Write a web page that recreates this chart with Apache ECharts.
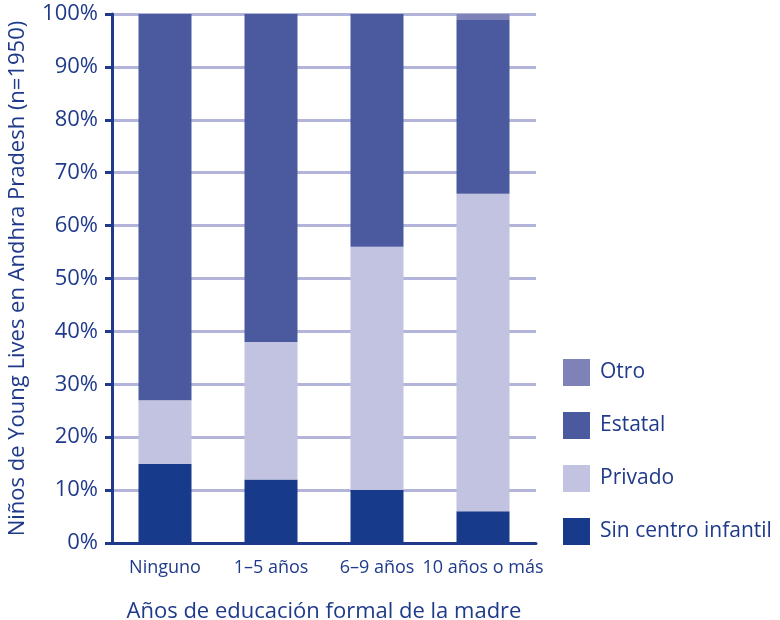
<!DOCTYPE html>
<html>
<head>
<meta charset="utf-8">
<script src="https://cdn.jsdelivr.net/npm/echarts@6/dist/echarts.min.js"></script>
<style>
  html, body { margin: 0; padding: 0; background: #fff; }
  #chart { width: 780px; height: 620px; }
</style>
</head>
<body>
<div id="chart"></div>
<script>
var categories = ['Ninguno', '1–5 años', '6–9 años', '10 años o más'];
var sinCentro = [15, 12, 10, 6];
var privado = [12, 26, 46, 60];
var estatal = [73, 62, 44, 33];
var otro = [0, 0, 0, 1];

var textColor = '#1f3a8a';
var fontFam = '"Open Sans", "Noto Sans", sans-serif';

var chart = echarts.init(document.getElementById('chart'));

function barSeries(name, data, color) {
    return {
        name: name,
        type: 'bar',
        stack: 'total',
        barWidth: '50%',
        data: data,
        itemStyle: { color: color },
        emphasis: { disabled: true }
    };
}

chart.setOption({
    animation: false,
    textStyle: { fontFamily: fontFam, color: textColor },
    grid: { left: 112, right: 244, top: 14, bottom: 77, containLabel: false, outerBoundsMode: 'none' },
    legend: {
        orient: 'vertical',
        left: 563,
        top: 359,
        padding: 0,
        itemWidth: 27,
        itemHeight: 27,
        itemGap: 26,
        icon: 'rect',
        data: ['Otro', 'Estatal', 'Privado', 'Sin centro infantil'],
        textStyle: { fontSize: 21, color: textColor, fontFamily: fontFam, padding: [0, 0, 0, 5] }
    },
    xAxis: {
        type: 'category',
        data: categories,
        name: 'Años de educación formal de la madre',
        nameLocation: 'middle',
        nameGap: 58,
        nameTextStyle: { fontSize: 22, color: textColor },
        axisLine: { lineStyle: { color: '#1f3a8a', width: 3 } },
        axisTick: { show: false },
        axisLabel: { fontSize: 18, color: textColor, margin: 16, interval: 0 }
    },
    yAxis: {
        type: 'value',
        min: 0,
        max: 100,
        interval: 10,
        name: 'Niños de Young Lives en Andhra Pradesh (n=1950)',
        nameLocation: 'middle',
        nameGap: 83,
        nameTextStyle: { fontSize: 22, color: textColor },
        axisLine: { show: true, lineStyle: { color: '#1f3a8a', width: 3 } },
        axisTick: { show: true, length: 7, inside: false, lineStyle: { color: '#1f3a8a', width: 3 } },
        axisLabel: { fontSize: 22, color: textColor, margin: 14, formatter: '{value}%' },
        splitLine: { lineStyle: { color: '#b3b4d9', width: 3 } }
    },
    series: [
        barSeries('Sin centro infantil', sinCentro, '#173a8a'),
        barSeries('Privado', privado, '#c2c3e0'),
        barSeries('Estatal', estatal, '#4b5a9f'),
        barSeries('Otro', otro, '#7f82b6')
    ]
});
</script>
</body>
</html>
